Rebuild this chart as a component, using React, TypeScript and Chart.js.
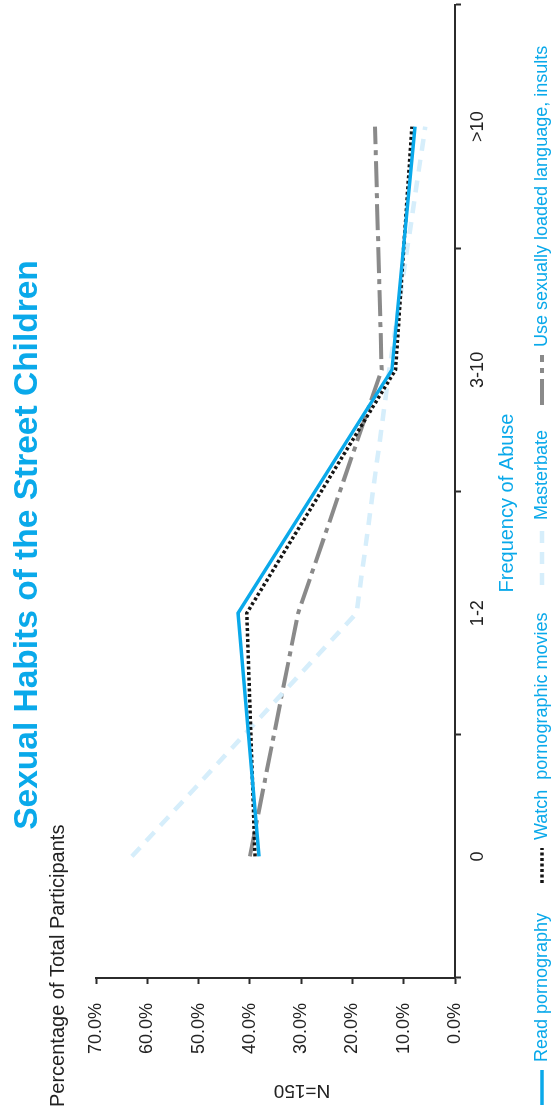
import React, { useEffect, useRef } from 'react';
import { Chart, registerables } from 'chart.js';

Chart.register(...registerables);

const categories = ['0', '1-2', '3-10', '>10'];
const readPornography = [38.2, 42.3, 12.3, 7.8];
const watchMovies = [39.0, 40.6, 11.6, 8.4];
const masterbate = [63.0, 19.2, 12.8, 5.8];
const sexualLanguage = [40.0, 30.6, 14.3, 15.6];
const seriesNames = [
  'Read pornography',
  'Watch  pornographic movies',
  'Masterbate',
  'Use sexually loaded language, insults',
];
const yTickLabels = ['0.0%', '10.0%', '20.0%', '30.0%', '40.0%', '50.0%', '60.0%', '70.0%'];
const chartTitle = 'Sexual Habits of the Street Children';
const yAxisTitle = 'Percentage of Total Participants';
const xAxisTitle = 'Frequency of Abuse';
const sampleNote = 'N=150';

const FONT = '"Liberation Sans", Arial, Helvetica, sans-serif';
const BLUE = '#0aa9ea';
const AXIS = '#2b2b2b';

const W = 1113;
const H = 555;

const textPlugin = {
  id: 'textPlugin',
  afterDraw(chart: any) {
    const ctx = chart.ctx as CanvasRenderingContext2D;
    ctx.save();
    ctx.fillStyle = BLUE;
    ctx.font = `bold 33.5px ${FONT}`;
    ctx.textAlign = 'center';
    ctx.textBaseline = 'alphabetic';
    ctx.fillText(chartTitle, 568, 37);
    ctx.fillStyle = '#222';
    ctx.font = `20px ${FONT}`;
    ctx.textAlign = 'left';
    ctx.fillText(yAxisTitle, 6, 64);
    ctx.fillStyle = BLUE;
    ctx.textAlign = 'center';
    ctx.fillText(xAxisTitle, 610, 513);
    ctx.save();
    ctx.fillStyle = '#222';
    ctx.font = `19px ${FONT}`;
    ctx.translate(28, 302);
    ctx.rotate(-Math.PI / 2);
    ctx.textAlign = 'center';
    ctx.fillText(sampleNote, 0, 0);
    ctx.restore();
    const starts = [8, 230, 528, 708];
    const lens = [35, 35, 57, 50];
    const ly = 542;
    chart.data.datasets.forEach((ds: any, i: number) => {
      ctx.save();
      ctx.strokeStyle = ds.borderColor;
      ctx.lineWidth = ds.borderWidth;
      ctx.setLineDash(ds.borderDash || []);
      ctx.lineCap = 'butt';
      ctx.beginPath();
      ctx.moveTo(starts[i], ly);
      ctx.lineTo(starts[i] + lens[i], ly);
      ctx.stroke();
      ctx.restore();
      ctx.fillStyle = BLUE;
      ctx.font = `18px ${FONT}`;
      ctx.textAlign = 'left';
      ctx.textBaseline = 'middle';
      ctx.fillText(ds.label, starts[i] + lens[i] + 8, ly);
    });
    ctx.restore();
  },
};

export default function App() {
  const ref = useRef<HTMLCanvasElement | null>(null);
  useEffect(() => {
    if (!ref.current) return;
    Chart.defaults.font.family = FONT;
    const chart = new Chart(ref.current, {
      type: 'line',
      data: {
        labels: categories,
        datasets: [
          {
            label: seriesNames[0],
            data: readPornography,
            borderColor: BLUE,
            borderWidth: 3.5,
            borderDash: [],
            pointRadius: 0,
            tension: 0,
          },
          {
            label: seriesNames[1],
            data: watchMovies,
            borderColor: '#151515',
            borderWidth: 3.5,
            borderDash: [3, 2.5],
            pointRadius: 0,
            tension: 0,
          },
          {
            label: seriesNames[2],
            data: masterbate,
            borderColor: '#d6eefb',
            borderWidth: 4.5,
            borderDash: [12, 9],
            pointRadius: 0,
            tension: 0,
          },
          {
            label: seriesNames[3],
            data: sexualLanguage,
            borderColor: '#8a8a8a',
            borderWidth: 4,
            borderDash: [26, 6, 5, 6],
            pointRadius: 0,
            tension: 0,
          },
        ],
      },
      options: {
        responsive: false,
        animation: false,
        devicePixelRatio: 1,
        layout: { padding: { top: 96, right: 5, left: 0, bottom: 0 } },
        plugins: {
          legend: { display: false },
          title: { display: false },
          tooltip: { enabled: false },
        },
        scales: {
          x: {
            offset: true,
            grid: {
              offset: true,
              drawOnChartArea: false,
              drawTicks: true,
              tickLength: 6,
              tickColor: AXIS,
              tickWidth: 2,
            },
            border: { display: true, color: AXIS, width: 2 },
            ticks: {
              color: '#222',
              font: { size: 18, family: FONT },
              padding: 6,
              maxRotation: 0,
            },
            afterFit(scale: any) {
              scale.height = 100;
            },
          },
          y: {
            min: 0,
            max: 70,
            grid: {
              drawOnChartArea: false,
              drawTicks: true,
              tickLength: 6,
              tickColor: AXIS,
              tickWidth: 2,
            },
            border: { display: true, color: AXIS, width: 2 },
            ticks: {
              stepSize: 10,
              color: '#222',
              font: { size: 18, family: FONT },
              padding: 19,
              callback: (_v: any, i: number) => yTickLabels[i],
            },
            afterFit(scale: any) {
              scale.width = 135;
            },
          },
        },
      },
      plugins: [textPlugin],
    });
    return () => chart.destroy();
  }, []);

  return (
    <div
      style={{
        position: 'fixed',
        left: 0,
        top: 0,
        width: W,
        height: H,
        background: '#fff',
        transformOrigin: '0 0',
        transform: `translate(0px, ${W}px) rotate(-90deg)`,
      }}
    >
      <canvas ref={ref} width={W} height={H} style={{ width: W, height: H, display: 'block' }} />
    </div>
  );
}
